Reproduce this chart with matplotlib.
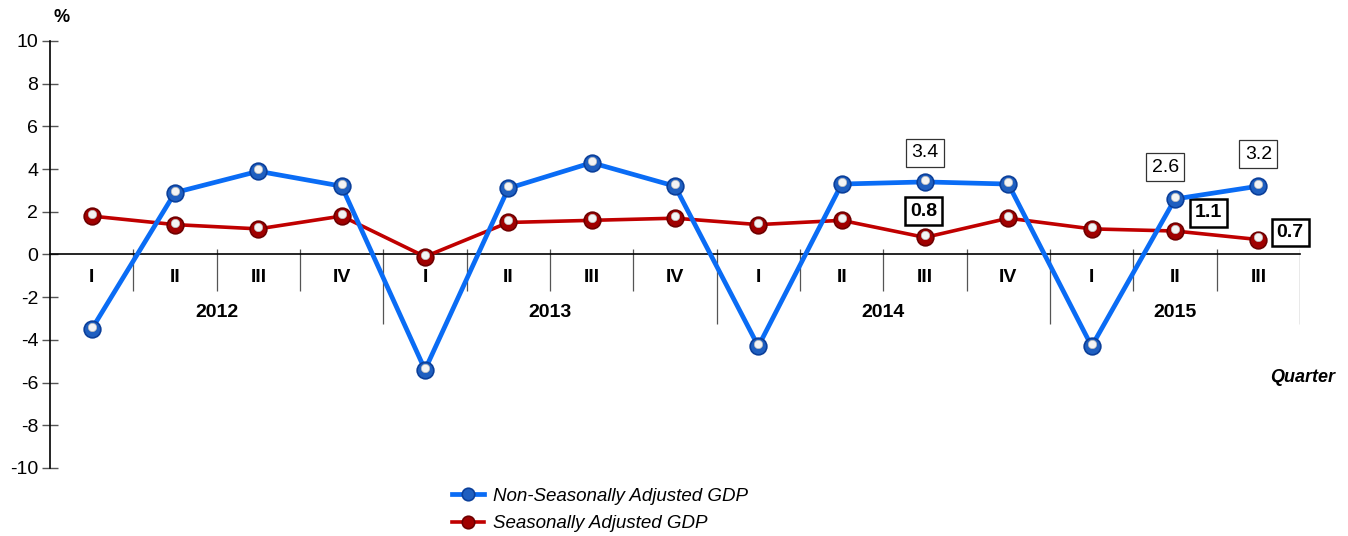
import matplotlib.pyplot as plt
import matplotlib.transforms as mtransforms
import numpy as np

plt.rcParams['font.family'] = ['Liberation Sans', 'DejaVu Sans']
plt.rcParams['axes.unicode_minus'] = False

# data
quarters = ['I', 'II', 'III', 'IV', 'I', 'II', 'III', 'IV',
            'I', 'II', 'III', 'IV', 'I', 'II', 'III']
years = ['2012', '2013', '2014', '2015']
year_len = [4, 4, 4, 3]
non_sa = [-3.5, 2.9, 3.9, 3.2, -5.4, 3.1, 4.3, 3.2,
          -4.3, 3.3, 3.4, 3.3, -4.3, 2.6, 3.2]
sa = [1.8, 1.4, 1.2, 1.8, -0.1, 1.5, 1.6, 1.7,
      1.4, 1.6, 0.8, 1.7, 1.2, 1.1, 0.7]

blue = '#0a6cf5'
red = '#c00000'

fig = plt.figure(figsize=(13.48, 5.36), dpi=100)
ax = fig.add_axes([50/1348, 1 - 468/536, 1250/1348, 427/536])

x = np.arange(len(quarters))
# small white highlight shifted a bit upward to get the "sphere" look
hl = ax.transData + mtransforms.ScaledTranslation(0, 1.5/72, fig.dpi_scale_trans)

ax.plot(x, non_sa, color=blue, lw=3.4, marker='o', ms=12, mfc='#1f5fc0',
        mec='#0b3f9a', mew=1.2, zorder=4, label='Non-Seasonally Adjusted GDP')
ax.plot(x, non_sa, ls='none', marker='o', ms=6, mfc='#f4f4f4', mec='#bbbbbb',
        mew=0.5, transform=hl, zorder=5)
ax.plot(x, sa, color=red, lw=2.6, marker='o', ms=12, mfc='#a00000',
        mec='#6e0000', mew=1.2, zorder=3, label='Seasonally Adjusted GDP')
ax.plot(x, sa, ls='none', marker='o', ms=6, mfc='#f4f4f4', mec='#bbbbbb',
        mew=0.5, transform=hl, zorder=3.5)

ax.set_xlim(-0.5, len(quarters) - 0.5)
ax.set_ylim(-10, 10)
ax.set_yticks(np.arange(-10, 11, 2))
ax.tick_params(axis='y', direction='inout', length=11, width=1, color='#555555',
               labelsize=14, pad=3)
ax.set_xticks([])
for s in ['top', 'right']:
    ax.spines[s].set_visible(False)
ax.spines['bottom'].set_position(('data', 0))
ax.spines['left'].set_linewidth(1.2)
ax.spines['bottom'].set_linewidth(1.2)

# category axis: quarter labels, year labels, separators
for i, q in enumerate(quarters):
    ax.text(i, -1.08, q, ha='center', va='center', fontsize=14, fontweight='bold')

start = 0
ends = []
for y, n in zip(years, year_len):
    ax.text(start + (n - 1) / 2, -2.72, y, ha='center', va='center',
            fontsize=14, fontweight='bold')
    start += n
    ends.append(start - 0.5)

for b in np.arange(0.5, len(quarters), 1.0):
    low = -3.25 if b in ends else -1.7
    ax.vlines(b, low, 0.25, color='#555555', lw=0.9, zorder=1)

# value boxes
thin = dict(boxstyle='square,pad=0.28', fc='white', ec='#333333', lw=0.9)
thick = dict(boxstyle='square,pad=0.26', fc='white', ec='black', lw=1.8)
ax.annotate(f'{non_sa[10]}', (10, non_sa[10]), xytext=(0, 21), textcoords='offset points',
            ha='center', va='center', fontsize=14, bbox=thin)
ax.annotate(f'{non_sa[13]}', (13, non_sa[13]), xytext=(-7, 23), textcoords='offset points',
            ha='center', va='center', fontsize=14, bbox=thin)
ax.annotate(f'{non_sa[14]}', (14, non_sa[14]), xytext=(0, 23), textcoords='offset points',
            ha='center', va='center', fontsize=14, bbox=thin)
ax.annotate(f'{sa[10]}', (10, sa[10]), xytext=(-1, 19), textcoords='offset points',
            ha='center', va='center', fontsize=14, fontweight='bold', bbox=thick)
ax.annotate(f'{sa[13]}', (13, sa[13]), xytext=(24, 13), textcoords='offset points',
            ha='center', va='center', fontsize=14, fontweight='bold', bbox=thick)
ax.annotate(f'{sa[14]}', (14, sa[14]), xytext=(23, 5), textcoords='offset points',
            ha='center', va='center', fontsize=14, fontweight='bold', bbox=thick)

fig.text(62/1348, 1 - 18/536, '%', ha='center', va='center', fontsize=13, fontweight='bold')
fig.text(1335/1348, 1 - 377/536, 'Quarter', ha='right', va='center', fontsize=13,
         fontweight='bold', fontstyle='italic')

fig.legend(loc='upper left', bbox_to_anchor=(435/1348, 1 - 471/536), frameon=False,
           prop={'style': 'italic', 'size': 13.5}, handlelength=1.7, handletextpad=0.5,
           labelspacing=0.55, markerscale=0.75)

fig.savefig('out.png', dpi=100)
